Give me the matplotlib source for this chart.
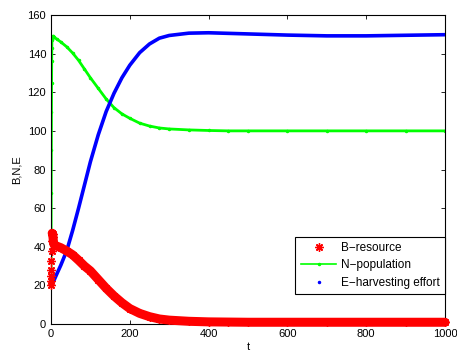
import numpy as np
import matplotlib.pyplot as plt
from matplotlib.lines import Line2D

plt.rcParams.update({
    'font.family': ['Liberation Sans', 'DejaVu Sans'],
    'font.size': 8,
    'xtick.direction': 'in',
    'ytick.direction': 'in',
    'xtick.top': True,
    'ytick.right': True,
    'axes.linewidth': 0.8,
})

# -------------------------------------------------
# data
# -------------------------------------------------
t = [0, 0.3, 0.6, 0.9, 1.2, 1.5, 1.8, 2.1, 2.5, 3, 4, 5, 6, 7, 8,
     15, 25, 40, 55, 70, 85, 100, 120, 140, 160, 180, 200, 225, 250,
     275, 300, 350, 400, 450, 500, 600, 700, 800, 900, 1000]

B = [20, 22.5, 25, 28, 32.5, 38, 43, 46, 47, 47, 46.5, 45, 43, 41.5, 41,
     40.3, 39.5, 37.8, 35.8, 33, 30, 27.5, 23, 18.5, 14.5, 11, 8, 5.5, 3.8,
     2.6, 2, 1.4, 1.1, 1, 0.9, 0.9, 0.9, 0.9, 0.9, 0.9]

N = [20, 45, 68, 90, 110, 125, 136, 143, 147, 148.5, 149, 149, 148.8, 148.6, 148.4,
     147.5, 146, 143.5, 140.3, 136.5, 132, 127.5, 122, 116.5, 112, 108.8, 106.5, 104, 102.5,
     101.5, 101, 100.5, 100.2, 100, 100, 100, 100, 100, 100, 100]

E = [20, 20.1, 20.2, 20.3, 20.4, 20.5, 20.6, 20.7, 20.9, 21, 21.4, 21.8, 22.1, 22.4, 22.8,
     26, 30.5, 38, 48.5, 60, 72, 84, 98, 110, 119.5, 127.5, 134, 140.5, 145,
     148, 149.4, 150.6, 150.8, 150.5, 150.2, 149.6, 149.2, 149.2, 149.5, 149.8]

asterisk = (8, 2, 0)
n_fast = 9  # first samples: the fast transient, drawn as loose stars only

fig = plt.figure(figsize=(4.57, 3.51), dpi=100)
ax = fig.add_axes([51 / 457, 1 - 324 / 351, 394 / 457, 309 / 351])

ax.plot(t[n_fast:], B[n_fast:], color='red', lw=6.5, solid_capstyle='round',
        clip_on=False, zorder=3)
ax.plot(t, B, color='red', lw=0, marker=asterisk, ms=6, mew=1.0, clip_on=False, zorder=3)
ax.plot(t, N, color=(0, 1, 0), lw=2.0, marker='.', ms=3, zorder=2)
ax.plot(t, E, color='blue', lw=2.6, zorder=2)

ax.set_xlim(0, 1000)
ax.set_ylim(0, 160)
ax.set_xticks(np.arange(0, 1001, 200))
ax.set_yticks(np.arange(0, 161, 20))
ax.tick_params(length=3, width=0.6)
ax.set_xlabel('t', labelpad=2)
ax.set_ylabel('B,N,E', labelpad=4)

handles = [
    Line2D([], [], color='red', lw=0, marker=asterisk, ms=6),
    Line2D([], [], color=(0, 1, 0), lw=1.2, marker='.', ms=3),
    Line2D([], [], color='blue', lw=0, marker='.', ms=3),
]
labels = ['B\u2212resource', 'N\u2212population', 'E\u2212harvesting effort']
leg = ax.legend(handles, labels, loc='lower right', bbox_to_anchor=(1.0, 0.097),
                fontsize=8.5, fancybox=False, framealpha=1, edgecolor='black',
                handlelength=3.0, handletextpad=0.4, borderpad=0.45,
                labelspacing=0.45, borderaxespad=0)
leg.get_frame().set_linewidth(0.8)

plt.savefig('out.png', dpi=100)
